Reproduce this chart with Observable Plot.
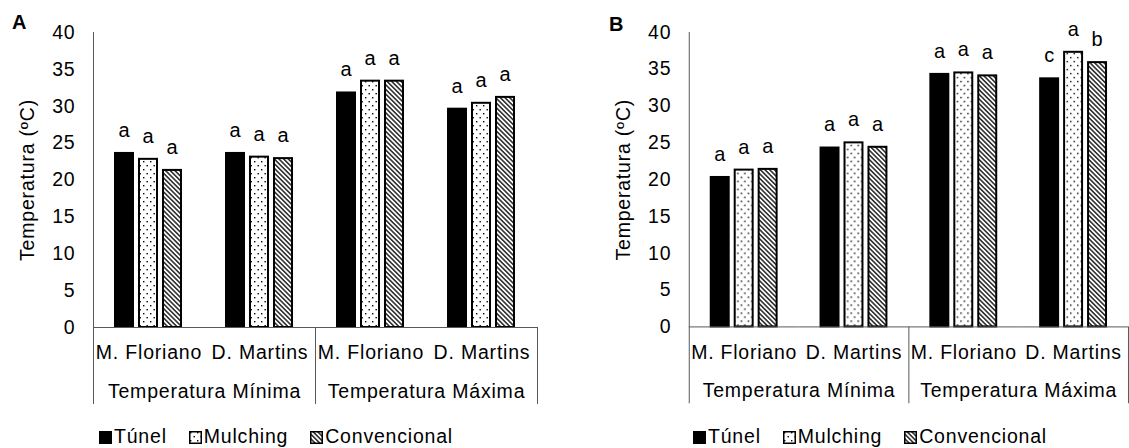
<!DOCTYPE html>
<html><head><meta charset="utf-8">
<script src="https://cdn.jsdelivr.net/npm/d3@7"></script>
<script src="https://cdn.jsdelivr.net/npm/@observablehq/plot@0.6"></script>
<style>
html,body{margin:0;padding:0;background:#fff;overflow:hidden;width:1129px;height:448px;}
#wrap{position:relative;width:1129px;height:448px;overflow:hidden;font-family:"Liberation Sans",Arial,sans-serif;color:#000;}
.panel{position:absolute;top:0;}
.plabel{position:absolute;font-weight:bold;font-size:20px;line-height:20px;letter-spacing:0;}
.legend{position:absolute;top:426px;height:20px;display:flex;align-items:center;font-size:19.5px;letter-spacing:0.8px;line-height:20px;white-space:nowrap;}
.legend .item{display:flex;align-items:center;margin-right:22px;}
.legend svg{margin-right:2px;position:relative;top:1.5px;}
</style></head>
<body>
<svg width="0" height="0" style="position:absolute">
<defs>
<pattern id="dots" patternUnits="userSpaceOnUse" width="7" height="8">
<rect width="7" height="8" fill="white"/>
<rect x="1" y="1" width="1.4" height="1.4" fill="black"/>
<rect x="4.5" y="5" width="1.4" height="1.4" fill="black"/>
</pattern>
<pattern id="hatch" patternUnits="userSpaceOnUse" width="3.3" height="4" patternTransform="rotate(-45)">
<rect width="3.3" height="4" fill="white"/>
<line x1="1.65" y1="-1" x2="1.65" y2="5" stroke="black" stroke-width="1.3"/>
</pattern>
</defs></svg>
<div id="wrap"></div>
<script>
// ---- data ----
const treatments = ["Túnel", "Mulching", "Convencional"];
const sites = ["M. Floriano", "D. Martins"];
const groups = ["Temperatura Mínima", "Temperatura Máxima"];
const yTicks = [0, 5, 10, 15, 20, 25, 30, 35, 40];
const yLabel = "Temperatura (ºC)";

// order of values: Mínima/M. Floriano, Mínima/D. Martins, Máxima/M. Floriano, Máxima/D. Martins
const tunelA = [23.6, 23.6, 31.8, 29.6];
const mulchingA = [22.8, 23.1, 33.4, 30.4];
const convencionalA = [21.3, 22.9, 33.4, 31.2];
const lettersTunelA = ["a", "a", "a", "a"];
const lettersMulchingA = ["a", "a", "a", "a"];
const lettersConvencionalA = ["a", "a", "a", "a"];

const tunelB = [20.3, 24.3, 34.3, 33.7];
const mulchingB = [21.3, 25.0, 34.5, 37.3];
const convencionalB = [21.4, 24.4, 34.1, 35.9];
const lettersTunelB = ["a", "a", "a", "c"];
const lettersMulchingB = ["a", "a", "a", "a"];
const lettersConvencionalB = ["a", "a", "a", "b"];

const fills = ["black", "url(#dots)", "url(#hatch)"];
const axisColor = "#595959";

function panel({tunel, mulch, conv, lt, lm, lc, width, marginLeft, marginRight}) {
  const keys = [];
  groups.forEach(g => sites.forEach(s => keys.push(g + "|" + s)));
  const rows = [];
  keys.forEach((k, i) => {
    [[tunel, lt], [mulch, lm], [conv, lc]].forEach(([v, l], j) =>
      rows.push({key: k, treat: treatments[j], value: v[i], letter: l[i]}));
  });
  const groupRows = groups.map((g, gi) => ({key: keys[gi * 2], label: g}));
  return Plot.plot({
    width, height: 412,
    marginLeft, marginRight, marginTop: 32, marginBottom: 85,
    style: {fontFamily: "'Liberation Sans', Arial, sans-serif", fontSize: "19.5px", letterSpacing: "0.8px", color: "#000", background: "white", overflow: "visible"},
    fx: {domain: keys, padding: 0},
    x: {domain: treatments, paddingInner: 0.24, paddingOuter: 0.855, axis: null},
    y: {domain: [0, 40]},
    color: {domain: treatments, range: fills},
    marks: [
      Plot.barY(rows, {fx: "key", x: "treat", y: "value", fill: "treat", stroke: "black", strokeWidth: 2}),
      Plot.ruleY([0], {stroke: axisColor}),
      Plot.frame({anchor: "left", fx: keys[0], insetBottom: -76, stroke: axisColor}),
      Plot.frame({anchor: "left", fx: keys[2], insetTop: 295, insetBottom: -76, stroke: axisColor}),
      Plot.frame({anchor: "right", fx: keys[3], insetTop: 295, insetBottom: -76, stroke: axisColor}),
      Plot.text(rows, {fx: "key", x: "treat", y: "value", text: "letter", dy: -23, fontSize: 20}),
      Plot.text(groupRows, {fx: "key", text: "label", frameAnchor: "bottom-right", textAnchor: "middle", lineAnchor: "middle", dy: 64, fontSize: 19.5}),
      Plot.axisFx({anchor: "bottom", tickSize: 0, tickPadding: 18, tickFormat: k => k.split("|")[1], label: null, fontSize: 19.5}),
      Plot.axisY({ticks: yTicks, tickSize: 0, tickPadding: 18, label: yLabel, labelAnchor: "center", labelArrow: "none", labelOffset: 73, fontSize: 19.5})
    ]
  });
}

function legend(left) {
  const div = document.createElement("div");
  div.className = "legend";
  div.style.left = left + "px";
  treatments.forEach((t, j) => {
    const item = document.createElement("div");
    item.className = "item";
    const stroke = j === 0 ? "" : ' stroke="black" stroke-width="1.5"';
    item.innerHTML = `<svg width="13" height="13"><rect x="${j ? 0.75 : 0}" y="${j ? 0.75 : 0}" width="${j ? 11.5 : 13}" height="${j ? 11.5 : 13}" fill="${fills[j]}"${stroke}/></svg><span>${t}</span>`;
    div.appendChild(item);
  });
  return div;
}

const wrap = document.getElementById("wrap");
const pa = panel({tunel: tunelA, mulch: mulchingA, conv: convencionalA, lt: lettersTunelA, lm: lettersMulchingA, lc: lettersConvencionalA, width: 564, marginLeft: 91, marginRight: 26});
const da = document.createElement("div"); da.className = "panel"; da.style.left = "0px"; da.appendChild(pa); wrap.appendChild(da);
const pb = panel({tunel: tunelB, mulch: mulchingB, conv: convencionalB, lt: lettersTunelB, lm: lettersMulchingB, lc: lettersConvencionalB, width: 566, marginLeft: 124, marginRight: 0});
const db = document.createElement("div"); db.className = "panel"; db.style.left = "564px"; db.appendChild(pb); wrap.appendChild(db);

const la = document.createElement("div"); la.className = "plabel"; la.textContent = "A"; la.style.left = "12px"; la.style.top = "12px"; wrap.appendChild(la);
const lb = document.createElement("div"); lb.className = "plabel"; lb.textContent = "B"; lb.style.left = "609px"; lb.style.top = "14px"; wrap.appendChild(lb);
wrap.appendChild(legend(99));
wrap.appendChild(legend(693));
</script>
</body></html>
